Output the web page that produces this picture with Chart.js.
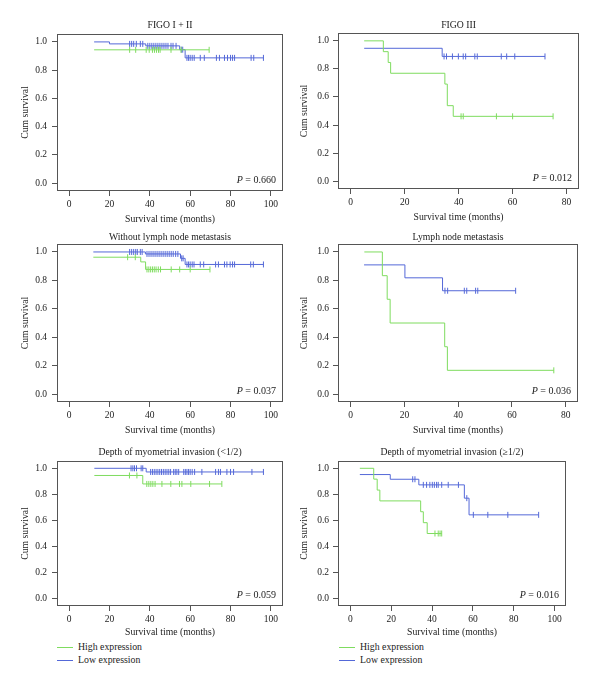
<!DOCTYPE html>
<html>
<head>
<meta charset="utf-8">
<title>Kaplan-Meier survival by expression</title>
<script src="https://cdn.jsdelivr.net/npm/chart.js@4.4.1/dist/chart.umd.min.js"></script>
<style>
  body { margin: 0; background: #fff; }
  #page { position: relative; width: 600px; height: 687px; overflow: hidden;
          font-family: 'Liberation Serif', 'DejaVu Serif', serif; color: #222; }
  #page canvas { position: absolute; }
  .legend { position: absolute; font-size: 9.8px; line-height: 12.7px; }
  .legend .row { display: flex; align-items: center; height: 12.7px; }
  .legend .swatch { display: inline-block; width: 16px; height: 1px; margin-right: 5px; }
</style>
</head>
<body>
<div id="page"></div>
<script>
// ---- data ----
// steps: [time, survival] where the curve starts / drops; censored: times of the tick marks
const seriesNames = ['High expression', 'Low expression'];
const monthTicks100 = [0, 20, 40, 60, 80, 100];
const monthTicks80 = [0, 20, 40, 60, 80];
const survivalTicks = [0, 0.2, 0.4, 0.6, 0.8, 1.0];

// FIGO I + II  (P = 0.660)
const figo12HighSteps = [[12.4, 0.944]];
const figo12HighCensored = [30, 33, 38.2, 39.7, 41.3, 42.3, 43.3, 44.3, 45.1, 50.5, 55.5, 69.4];
const figo12LowSteps = [[12.4, 1.0], [20, 0.986], [38, 0.972], [54.8, 0.945], [57.5, 0.887]];
const figo12LowCensored = [30, 31, 32, 33.3, 35.3, 36.5, 39, 40, 41, 42, 43, 44, 45, 46, 47, 48, 49,
  50.5, 51.5, 53, 55.6, 56.3, 58.4, 59.2, 60, 61, 62, 65, 67, 73, 74.5, 77, 78.5, 80, 81, 82, 90.2, 91.5, 96.3];

// FIGO III  (P = 0.012)
const figo3HighSteps = [[5, 1.0], [12.1, 0.923], [13.9, 0.846], [14.8, 0.769], [34.9, 0.692], [35.8, 0.538], [38, 0.462]];
const figo3HighCensored = [40.9, 41.7, 54, 60, 75];
const figo3LowSteps = [[5, 0.947], [33.9, 0.889]];
const figo3LowCensored = [34.6, 35.5, 37.7, 39.9, 41.7, 42.6, 46, 46.9, 55.8, 57.8, 60.8, 72];

// Without lymph node metastasis  (P = 0.037)
const noLnmHighSteps = [[12, 0.963], [35.5, 0.93], [37.9, 0.877]];
const noLnmHighCensored = [29, 32.8, 38.6, 39.5, 40.4, 41.3, 42.2, 43.1, 44.2, 45.3, 50.6, 54.8, 60, 69.8];
const noLnmLowSteps = [[12, 1.0], [37.8, 0.986], [55.2, 0.955], [57.5, 0.912]];
const noLnmLowCensored = [30, 31, 32, 33, 33.8, 35.3, 36.2, 38.6, 39.6, 40.6, 41.6, 42.6, 43.6, 44.6, 45.6,
  46.6, 47.6, 48.6, 49.6, 50.6, 51.6, 52.8, 53.9, 55.8, 56.5, 58.4, 59.2, 60, 61, 61.9, 65, 66.7, 72.6, 74,
  77, 78.2, 79.8, 81, 82, 90, 91.3, 96.3];

// Lymph node metastasis  (P = 0.036)
const lnmHighSteps = [[5.1, 1.0], [11.8, 0.833], [13.6, 0.667], [14.7, 0.5], [35, 0.333], [36, 0.167]];
const lnmHighCensored = [75.6];
const lnmLowSteps = [[5, 0.909], [20.2, 0.818], [34.2, 0.727]];
const lnmLowCensored = [35.1, 36.1, 42.3, 43.2, 46.5, 47.3, 61.4];

// Depth of myometrial invasion (<1/2)  (P = 0.059)
const shallowHighSteps = [[12.5, 0.945], [36.5, 0.88]];
const shallowHighCensored = [29.9, 33.6, 38.5, 39.5, 40.5, 41.5, 42.6, 46, 50.4, 54.7, 55.9, 60.3, 69.6, 75.7];
const shallowLowSteps = [[12.5, 1.0], [38.2, 0.972]];
const shallowLowCensored = [30.7, 31.6, 32.4, 33.4, 35.7, 36.5, 40.4, 41.3, 42.2, 43.1, 44, 44.9, 45.8, 46.7,
  47.6, 48.5, 49.4, 50.3, 51.8, 52.6, 53.4, 54.3, 56.8, 57.6, 58.4, 59.2, 60, 61, 62.2, 65.8, 72.6, 74, 75,
  78.2, 80, 81.5, 90.6, 96.3];

// Depth of myometrial invasion (≥1/2)  (P = 0.016)
const deepHighSteps = [[4.6, 1.0], [11.4, 0.917], [13.1, 0.833], [14.4, 0.75], [34.4, 0.667], [35.7, 0.583], [37.6, 0.5]];
const deepHighCensored = [41.4, 43, 43.9, 44.7];
const deepLowSteps = [[4.6, 0.952], [19.5, 0.916], [33.5, 0.873], [55.8, 0.771], [58.1, 0.643]];
const deepLowCensored = [30.5, 31.6, 35.7, 37.3, 38.9, 40.1, 41.1, 42.2, 43, 44.7, 47.9, 52.9, 57, 60.2, 67.3, 77.1, 92.2];

// ---- styling / layout ----
const GREEN = '#7fdc5f';
const BLUE = '#5468d8';
const AXIS = '#555';
const FONT = "'Liberation Serif', 'DejaVu Serif', serif";

Chart.defaults.font.family = FONT;
Chart.defaults.font.size = 9.5;
Chart.defaults.color = '#222';

// top: canvas top; tTop: title centre below canvas top; padT: room above the plot box
const panels = [
  { title: 'FIGO I + II', p: '0.660', high: [figo12HighSteps, figo12HighCensored], low: [figo12LowSteps, figo12LowCensored],
    xRange: [-6, 106], xTicks: monthTicks100, left: 0, top: 15, width: 290, height: 212, yw: 57, ytp: 19, padR: 7, padT: 19, tY: 10, xh: 36 },
  { title: 'FIGO III', p: '0.012', high: [figo3HighSteps, figo3HighCensored], low: [figo3LowSteps, figo3LowCensored],
    xRange: [-4.7, 84.6], xTicks: monthTicks80, left: 295, top: 14, width: 305, height: 211, yw: 43, ytp: 3, padR: 21, padT: 19, tY: 11, xh: 36 },
  { title: 'Without lymph node metastasis', p: '0.037', high: [noLnmHighSteps, noLnmHighCensored], low: [noLnmLowSteps, noLnmLowCensored],
    xRange: [-6, 106], xTicks: monthTicks100, left: 0, top: 227, width: 290, height: 211, yw: 57, ytp: 19, padR: 7, padT: 17, tY: 10.5, xh: 36 },
  { title: 'Lymph node metastasis', p: '0.036', high: [lnmHighSteps, lnmHighCensored], low: [lnmLowSteps, lnmLowCensored],
    xRange: [-4.7, 84.6], xTicks: monthTicks80, left: 295, top: 227, width: 305, height: 211, yw: 43, ytp: 3, padR: 22, padT: 17, tY: 10.5, xh: 36 },
  { title: 'Depth of myometrial invasion (<1/2)', p: '0.059', high: [shallowHighSteps, shallowHighCensored], low: [shallowLowSteps, shallowLowCensored],
    xRange: [-6, 106], xTicks: monthTicks100, left: 0, top: 442, width: 290, height: 198, yw: 57, ytp: 19, padR: 7, padT: 19, tY: 10, xh: 34 },
  { title: 'Depth of myometrial invasion (\u22651/2)', p: '0.016', high: [deepHighSteps, deepHighCensored], low: [deepLowSteps, deepLowCensored],
    xRange: [-6.1, 105.6], xTicks: monthTicks100, left: 295, top: 442, width: 305, height: 198, yw: 43, ytp: 3, padR: 34, padT: 19, tY: 10, xh: 34 },
];

// build a KM step curve; censored marks sit on the current survival level
function kmPoints(steps, censored) {
  const pts = steps.map(([t, s]) => ({ x: t, y: s, c: false }));
  censored.forEach(t => {
    let level = steps[0][1];
    steps.forEach(([st, s]) => { if (st <= t) level = s; });
    pts.push({ x: t, y: level, c: true });
  });
  return pts.sort((a, b) => a.x - b.x);
}

function kmDataset(label, color, [steps, censored]) {
  const pts = kmPoints(steps, censored);
  return {
    label,
    data: pts,
    borderColor: color,
    borderWidth: 1,
    stepped: 'before',
    fill: false,
    pointStyle: 'line',
    pointRotation: 90,
    pointRadius: pts.map(p => (p.c ? 3 : 0)),
    pointHoverRadius: 0,
    pointBorderColor: color,
    pointBorderWidth: 1,
  };
}

// box round the plot area, panel title centred over it, P value in the lower right
const framePlugin = {
  id: 'frame',
  afterDraw(chart, args, opts) {
    const { ctx, chartArea: a } = chart;
    ctx.save();
    ctx.strokeStyle = AXIS;
    ctx.lineWidth = 1;
    ctx.strokeRect(Math.round(a.left) + 0.5, Math.round(a.top) + 0.5,
      Math.round(a.right - a.left) - 1, Math.round(a.bottom - a.top) - 1);

    ctx.fillStyle = '#222';
    ctx.textBaseline = 'middle';
    ctx.textAlign = 'center';
    ctx.font = '9.7px ' + FONT;
    ctx.fillText(opts.title, (a.left + a.right) / 2, opts.titleY);

    ctx.textAlign = 'left';
    const rest = ' = ' + opts.p;
    ctx.font = '10px ' + FONT;
    const wRest = ctx.measureText(rest).width;
    ctx.font = 'italic 10px ' + FONT;
    const wP = ctx.measureText('P').width;
    const xEnd = a.right - 7;
    const y = a.bottom - 10.5;
    ctx.fillText('P', xEnd - wRest - wP, y);
    ctx.font = '10px ' + FONT;
    ctx.fillText(rest, xEnd - wRest, y);
    ctx.restore();
  }
};

const page = document.getElementById('page');

panels.forEach(cfg => {
  const canvas = document.createElement('canvas');
  canvas.width = cfg.width;
  canvas.height = cfg.height;
  canvas.style.left = cfg.left + 'px';
  canvas.style.top = cfg.top + 'px';
  canvas.style.width = cfg.width + 'px';
  canvas.style.height = cfg.height + 'px';
  page.appendChild(canvas);

  new Chart(canvas.getContext('2d'), {
    type: 'line',
    data: {
      datasets: [
        kmDataset(seriesNames[0], GREEN, cfg.high),
        kmDataset(seriesNames[1], BLUE, cfg.low),
      ],
    },
    options: {
      responsive: false,
      animation: false,
      devicePixelRatio: 1,
      layout: { padding: { left: 0, right: cfg.padR, top: cfg.padT, bottom: 0 } },
      plugins: {
        legend: { display: false },
        tooltip: { enabled: false },
        title: { display: false },
        frame: { p: cfg.p, title: cfg.title, titleY: cfg.tY },
      },
      scales: {
        x: {
          type: 'linear',
          min: cfg.xRange[0],
          max: cfg.xRange[1],
          afterBuildTicks: s => { s.ticks = cfg.xTicks.map(v => ({ value: v })); },
          afterFit: s => { s.height = cfg.xh; },
          ticks: { autoSkip: false, maxRotation: 0, padding: 3, color: '#222' },
          grid: { display: true, drawOnChartArea: false, drawTicks: true, tickLength: 5, color: AXIS },
          border: { display: false },
          title: {
            display: true,
            text: 'Survival time (months)',
            color: '#222',
            font: { size: 9.7, lineHeight: '12px' },
            padding: { top: 0, bottom: 2 },
          },
        },
        y: {
          type: 'linear',
          min: -0.056,
          max: 1.056,
          afterBuildTicks: s => { s.ticks = survivalTicks.map(v => ({ value: v })); },
          afterFit: s => { s.width = cfg.yw; },
          ticks: { padding: cfg.left ? 4 : 5, color: '#222', callback: v => v.toFixed(1) },
          grid: { display: true, drawOnChartArea: false, drawTicks: true, tickLength: 5, color: AXIS },
          border: { display: false },
          title: {
            display: true,
            text: 'Cum survival',
            color: '#222',
            font: { size: 9.7, lineHeight: '12px' },
            padding: { top: cfg.ytp, bottom: 0 },
          },
        },
      },
    },
    plugins: [framePlugin],
  });
});

// legends under the bottom row
[57, 339].forEach(x => {
  const box = document.createElement('div');
  box.className = 'legend';
  box.style.left = x + 'px';
  box.style.top = '641px';
  seriesNames.forEach((name, i) => {
    const row = document.createElement('div');
    row.className = 'row';
    const sw = document.createElement('span');
    sw.className = 'swatch';
    sw.style.background = i === 0 ? GREEN : BLUE;
    row.appendChild(sw);
    row.appendChild(document.createTextNode(name));
    box.appendChild(row);
  });
  page.appendChild(box);
});
</script>
</body>
</html>
